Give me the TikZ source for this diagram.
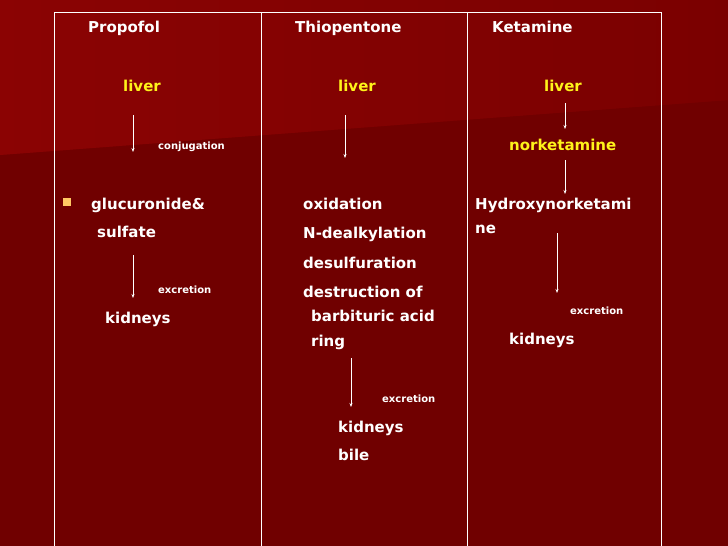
\documentclass[tikz,border=0pt]{standalone}
\usepackage{fontspec}
\setmainfont{DejaVu Sans}
\usetikzlibrary{arrows.meta}
\begin{document}
\begin{tikzpicture}[x=1pt,y=-1pt,
  t/.style={anchor=west,inner sep=0pt,text=white,text height=11pt,text depth=3pt,font=\bfseries\fontsize{15}{17}\selectfont},
  yl/.style={t,text=yellow!90!white},
  s/.style={anchor=west,inner sep=0pt,text=white,text height=7pt,text depth=2pt,font=\bfseries\fontsize{10}{11}\selectfont},
  ar/.style={white,-{Stealth[length=4pt,width=3pt]},line width=0.6pt},
  ln/.style={white,line width=1pt}]
\useasboundingbox (0,0) rectangle (728,546);
\fill[color={rgb,255:red,112;green,0;blue,0}] (0,0) rectangle (728,546);
\fill[color={rgb,255:red,130;green,2;blue,2}] (0,0) -- (728,0) -- (728,100) -- (0,155) -- cycle;
\shade[left color={rgb,255:red,145;green,5;blue,5}, right color={rgb,255:red,118;green,0;blue,0}, opacity=0.6] (0,0) -- (728,0) -- (728,100) -- (0,155) -- cycle;
% table
\coordinate (a1) at (54,12); \coordinate (a2) at (661,12);
\coordinate (b1) at (54,546); \coordinate (c0) at (261,12); \coordinate (c1) at (261,546);
\coordinate (d0) at (467,12); \coordinate (d1) at (467,546); \coordinate (e1) at (661,546);
\draw[ln] (b1) -- (a1) -- (a2) -- (e1);
\draw[ln] (c0) -- (c1);
\draw[ln] (d0) -- (d1);
% Propofol
\node[t] (p0) at (88,28) {Propofol};
\node[yl] (p1) at (123,87) {liver};
\node[s] (p2) at (158,147) {conjugation};
\fill[color={rgb,255:red,255;green,200;blue,100}] (63,198) rectangle (71,206);
\node[t] (p3) at (91,205) {glucuronide\&};
\node[t] (p4) at (97,233) {sulfate};
\node[s] (p5) at (158,291) {excretion};
\node[t] (p6) at (105,319) {kidneys};
\coordinate (pa1) at (133,115); \coordinate (pa2) at (133,152);
\coordinate (pb1) at (133,255); \coordinate (pb2) at (133,298);
\draw[ar] (pa1) -- (pa2); \draw[ar] (pb1) -- (pb2);
% Thiopentone
\node[t] (t0) at (295,28) {Thiopentone};
\node[yl] (t1) at (338,87) {liver};
\node[t] (t2) at (303,205) {oxidation};
\node[t] (t3) at (303,234) {N-dealkylation};
\node[t] (t4) at (303,264) {desulfuration};
\node[t] (t5) at (303,293) {destruction of};
\node[t] (t6) at (311,317) {barbituric acid};
\node[t] (t7) at (311,342) {ring};
\node[s] (t8) at (382,400) {excretion};
\node[t] (t9) at (338,428) {kidneys};
\node[t] (t10) at (338,456) {bile};
\coordinate (ta1) at (345,115); \coordinate (ta2) at (345,158);
\coordinate (tb1) at (351,358); \coordinate (tb2) at (351,407);
\draw[ar] (ta1) -- (ta2); \draw[ar] (tb1) -- (tb2);
% Ketamine
\node[t] (k0) at (492,28) {Ketamine};
\node[yl] (k1) at (544,87) {liver};
\node[yl] (k2) at (509,146) {norketamine};
\node[t] (k3) at (475,205) {Hydroxynorketami};
\node[t] (k4) at (475,229) {ne};
\node[s] (k5) at (570,312) {excretion};
\node[t] (k6) at (509,340) {kidneys};
\coordinate (ka1) at (565,103); \coordinate (ka2) at (565,129);
\coordinate (kb1) at (565,160); \coordinate (kb2) at (565,194);
\coordinate (kc1) at (557,233); \coordinate (kc2) at (557,293);
\draw[ar] (ka1) -- (ka2); \draw[ar] (kb1) -- (kb2); \draw[ar] (kc1) -- (kc2);
\end{tikzpicture}
\end{document}
